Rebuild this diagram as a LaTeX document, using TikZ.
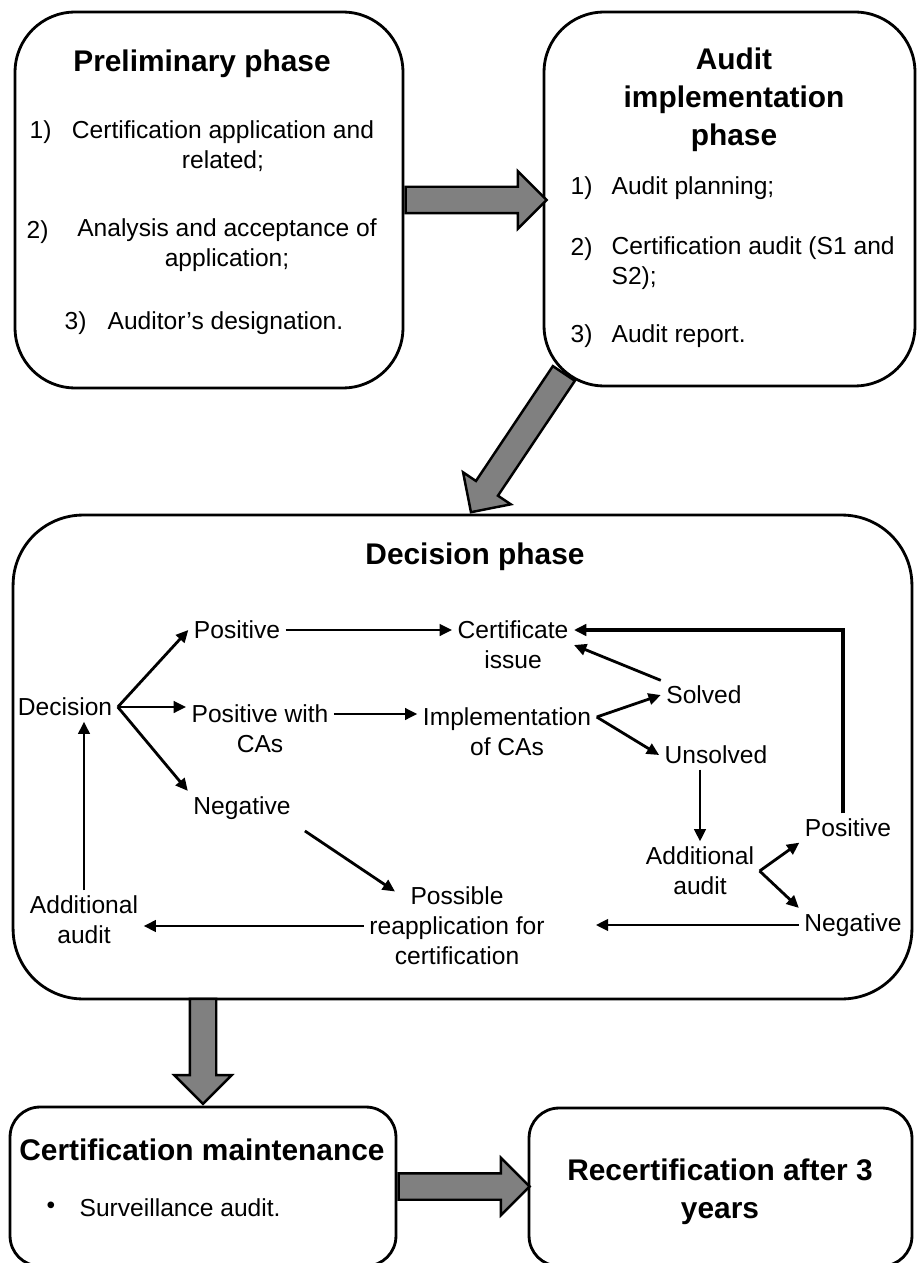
\documentclass[tikz,border=0pt]{standalone}
\usepackage{fontspec}
\setmainfont{Liberation Sans}
\usetikzlibrary{shapes, arrows.meta, positioning, calc}

\begin{document}
\begin{tikzpicture}[x=0.02cm, y=-0.02cm,
	every node/.style={font=\fontsize{14}{17}\selectfont, inner sep=3pt},
	phase/.style={draw, line width=1.6pt, rounded corners=1.2cm},
	title/.style={font=\fontsize{17}{21.5}\selectfont\bfseries, align=center},
	txt/.style={align=center},
	fatarrow/.style={single arrow, draw, line width=1.4pt, fill=gray, inner xsep=0pt, inner ysep=0.24cm, minimum width=1.1cm, single arrow head extend=0.31cm, single arrow tip angle=90},
	conn/.style={-{Triangle[length=7pt,width=6.5pt]}, line width=1.6pt}]
			\useasboundingbox (0,0) rectangle (917,1263);
			\clip (0,0) rectangle (917,1263);
			\node[phase, minimum width=7.76cm, minimum height=7.52cm] (prelim) at (209,200) {};
			\node[phase, minimum width=7.42cm, minimum height=7.48cm] (audit) at (729.5,199) {};
			\node[phase, rounded corners=1.4cm, minimum width=17.98cm, minimum height=9.68cm] (decbox) at (462.5,757) {};
			\node[phase, rounded corners=0.6cm, minimum width=7.72cm, minimum height=3.18cm] (maint) at (203,1186.5) {};
			\node[phase, rounded corners=0.6cm, minimum width=7.66cm, minimum height=3.16cm] (recert) at (720.5,1187) {};
			\node[fatarrow, minimum height=2.82cm, anchor=tail] (toaudit) at (prelim.east) {};
			\node[fatarrow, minimum height=3.34cm, rotate=236.2, anchor=tip] (todecision) at ($(decbox.north)+(7.5,0)$) {};
			\node[fatarrow, minimum height=2.1cm, rotate=270, anchor=tip] (tomaint) at (maint.north) {};
			\node[fatarrow, minimum height=2.62cm, anchor=tail] (torecert) at (maint.east) {};
			\node[title] (prelimtitle) at (202,64) {Preliminary phase};
			\node[anchor=west] (num1) at (24,132) {1)};
			\node[txt] (prelim1) at (223,146) {Certification application and\\related;};
			\node[anchor=west] (num2) at (21,232) {2)};
			\node[txt] (prelim2) at (227,245) {Analysis and acceptance of\\application;};
			\node (prelim3) at (204,323) {3)\hspace{12pt}Auditor’s designation.};
			\node[title] (audittitle) at (734,100) {Audit\\implementation\\phase};
			\node[anchor=west] (num4) at (565,188) {1)};
			\node[anchor=west] (audit1) at (606,188) {Audit planning;};
			\node[anchor=west] (num5) at (565,249) {2)};
			\node[anchor=west, align=left] (audit2) at (606,263) {Certification audit (S1 and\\S2);};
			\node[anchor=west] (num6) at (565,336) {3)};
			\node[anchor=west] (audit3) at (606,336) {Audit report.};
			\node[title] (dectitle) at (475,557) {Decision phase};
			\node (decision) at (65,707) {Decision};
			\node (pos) at (237,630) {Positive};
			\node[txt] (poswith) at (260,729) {Positive with\\CAs};
			\node (neg) at (242,808) {Negative};
			\node[txt] (certissue) at (513,645) {Certificate\\issue};
			\node[txt] (implca) at (507,732) {Implementation\\of CAs};
			\node (solved) at (704,695) {Solved};
			\node (unsolved) at (716,755) {Unsolved};
			\node[txt] (addaudR) at (700,871) {Additional\\audit};
			\node (posR) at (848,828) {Positive};
			\node (negR) at (853,925) {Negative};
			\node[txt] (reapply) at (457,926) {Possible\\reapplication for\\certification};
			\node[txt] (addaudL) at (84,920) {Additional\\audit};
			\node[title] (mainttitle) at (202,1150) {Certification maintenance};
			\node[anchor=west] (bullet) at (41,1208) {•};
			\node[anchor=west] (surv) at (74,1208) {Surveillance audit.};
			\node[title] (recerttitle) at (720,1192) {Recertification after 3\\years};
			\coordinate (implfork) at ($(implca.east)+(0,-15)$);
			\foreach \from/\to in {decision.east/pos.west, decision.east/neg.north west, implfork/solved.west, implfork/unsolved.west, solved.north west/certissue.east, addaudR.east/posR.south west, addaudR.east/negR.north west}
				\draw[conn] (\from) -- (\to);
			\draw[conn] (decision.east) -- (decision.east -| poswith.west);
			\draw[conn] (pos.east) -- (pos.east -| certissue.west);
			\draw[conn] ($(poswith.east)+(0,-15)$) -- ($(poswith.east -| implca.west)+(0,-15)$);
			\draw[conn] (addaudR.north |- unsolved.south) -- (addaudR.north);
			\draw[conn, line width=2.2pt] ([xshift=-3pt]posR.north) |- ($(certissue.east)+(0,-15)$);
			\draw[conn, shorten >=26pt] (negR.west) -- (negR.west -| reapply.east);
			\draw[conn] (reapply.west) -- (reapply.west -| addaudL.east);
			\draw[conn, shorten <=6pt] (neg.south east) -- ($(reapply.north)+(-62,10)$);
			\draw[conn] (addaudL.north) -- (addaudL.north |- decision.south);
		\end{tikzpicture}
\end{document}
